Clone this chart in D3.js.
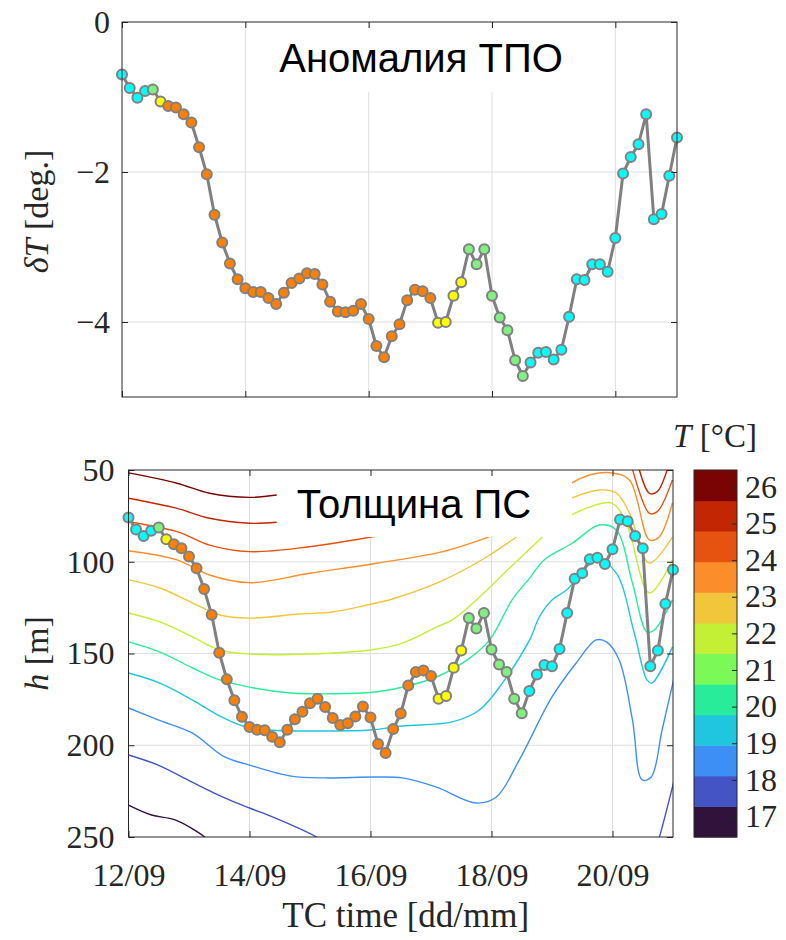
<!DOCTYPE html>
<html><head><meta charset="utf-8">
<script src="https://cdn.jsdelivr.net/npm/d3@7"></script>
<style>body{margin:0;background:#fff}</style>
</head><body><svg id="c" width="786" height="940"></svg>
<script>
// ---------------- data ----------------
const startDay = 12, stepDays = 0.125;          // 3-hourly samples starting 12/09 00:00
const dT = [-0.70,-0.88,-1.01,-0.92,-0.90,-1.06,-1.12,-1.14,-1.23,-1.34,
  -1.67,-2.03,-2.57,-2.94,-3.22,-3.43,-3.55,-3.60,-3.60,-3.68,
  -3.76,-3.61,-3.48,-3.42,-3.35,-3.36,-3.50,-3.73,-3.86,-3.87,
  -3.85,-3.76,-3.96,-4.32,-4.47,-4.19,-4.03,-3.71,-3.57,-3.59,
  -3.68,-4.01,-4.00,-3.65,-3.47,-3.03,-3.23,-3.03,-3.65,-3.94,
  -4.11,-4.51,-4.72,-4.54,-4.41,-4.40,-4.50,-4.37,-3.93,-3.43,
  -3.44,-3.23,-3.23,-3.33,-2.88,-2.02,-1.80,-1.63,-1.23,-2.63,
  -2.56,-2.05,-1.54];
const mldDepth = [75.9,82.4,86.0,83.1,81.3,87.8,90.5,92.7,97.2,103.5,
  114.9,128.9,149.6,164.1,175.5,184.5,190.0,191.6,191.8,195.4,
  198.4,191.6,185.8,181.8,177.1,174.6,179.1,185.2,189.0,188.0,
  184.3,178.9,184.9,199.3,204.2,191.2,182.7,167.4,160.1,159.2,
  162.3,174.6,173.2,157.8,148.4,130.6,136.4,127.9,147.8,156.0,
  160.1,174.6,182.5,170.4,161.4,156.3,156.9,147.5,127.9,109.3,
  106.2,98.6,97.8,101.2,93.2,77.0,77.9,86.0,92.7,156.9,
  148.4,122.9,104.4];
const pointClass = ("CCCCGY" + "OOOOOOOOOOOOOOOOOOOOOOOOOOOOOOOOOOO" + "YYYY" + "GGGGGGGG" + "CCCCCCCCCCCCCCCCCCCC").split("");
const times = dT.map((_, i) => startDay + i * stepDays);

const xTickValues = [12, 14, 16, 18, 20];
const xTickLabels = ["12/09", "14/09", "16/09", "18/09", "20/09"];
const dTTicks = [0, -2, -4];
const depthTicks = [50, 100, 150, 200, 250];
const cbTicks = [17, 18, 19, 20, 21, 22, 23, 24, 25, 26];

// isotherms: [day, depth m] (segments split where hidden by the title box)
const iso265 = [[[12.0,51.6],[12.80,57.2],[13.34,62.7],[14.0,64.9],[14.45,63.6]]];
const iso255 = [[[12.0,65.4],[12.80,70.9],[13.34,76.3],[14.0,79.0],[14.45,78.5]],
                [[20.42,47],[20.61,62.7],[20.74,61.8],[20.93,47]]];
const iso245 = [[[12.0,78.2],[12.80,83.6],[13.34,90.9],[14.0,94.5],[14.99,91.8],[16.10,86.0]],
                [[20.31,47],[20.61,73.6],[20.74,72.7],[20.99,55.4]]];
const iso235 = [[[12.0,94.0],[12.80,99.0],[13.34,107.2],[14.0,111.4],[14.99,106.3],[16.10,100.8],[17.19,94.5],[17.97,86.3]],
                [[19.32,57.1],[19.62,52.7],[19.99,51.6],[20.28,55.4],[20.61,88.1],[20.77,86.5],[20.99,68.0]]];
const iso225 = [[[12.0,109.9],[12.52,114.3],[13.06,122.5],[13.51,129.0],[14.0,130.7],[14.83,128.5],[15.37,127.4],[15.94,123.6],[16.36,120.3],[17.14,111.0],[17.92,97.4],[18.41,86.5]],
                [[19.32,65.3],[19.78,60.9],[20.06,62.5],[20.28,73.4],[20.61,100.7],[20.99,86.5]]];
const iso215 = [[[12.0,127.9],[12.52,132.8],[13.06,141.0],[13.51,148.1],[14.0,150.3],[14.99,150.3],[15.99,148.1],[16.53,144.3],[17.09,135.6],[17.35,131.7],[17.75,120.8],[18.30,103.4],[18.84,86.5]],
                [[19.32,74.5],[19.62,70.2],[19.99,68.0],[20.23,78.9],[20.61,117.0],[20.99,99.0]]];
const iso205 = [[[12.0,143.7],[12.52,149.2],[13.06,157.9],[13.51,164.4],[14.0,168.3],[14.69,171.5],[16.07,171.0],[16.53,168.3],[17.09,162.8],[17.64,152.5],[17.97,142.6],[18.34,120.8],[18.63,108.9],[18.87,99.0],[19.34,89.8],[19.78,80.0],[20.06,82.7],[20.33,111.6],[20.57,138.3],[20.69,137.2],[20.99,120.8]]];
const iso195 = [[[12.0,160.6],[12.52,166.1],[13.06,175.4],[13.51,184.1],[13.89,189.5],[14.33,191.7],[15.24,192.2],[15.99,191.7],[16.53,189.5],[17.35,187.3],[17.80,180.8],[18.18,166.1],[18.63,142.6],[18.79,130.1],[19.00,120.8],[19.24,115.4],[19.75,99.0],[20.06,106.1],[20.36,138.8],[20.57,164.4],[20.65,166.1],[20.99,146.5]]];
const iso185 = [[[12.0,179.7],[12.49,186.2],[13.05,193.3],[13.59,206.4],[14.0,210.8],[14.69,216.8],[15.24,217.8],[16.07,217.3],[16.53,217.8],[17.09,222.8],[17.75,231.5],[18.08,228.2],[18.46,208.0],[19.00,173.7],[19.40,155.2],[19.73,142.6],[19.90,143.7],[20.11,153.5],[20.33,186.2],[20.49,218.9],[20.64,217.3],[20.82,191.7],[21.02,162.8]]];
const iso175 = [[[12.0,205.3],[12.49,210.8],[13.05,220.1],[13.59,228.7],[14.0,234.2],[14.42,239.6],[15.11,250.0],[15.3,254]],
                [[20.74,253],[20.77,250.5],[21.02,218.9]]];
const iso165 = [[[12.0,232.6],[12.38,238.0],[12.77,240.7],[13.26,250.0],[13.35,253]]];
const isoLevels = [26.5, 25.5, 24.5, 23.5, 22.5, 21.5, 20.5, 19.5, 18.5, 17.5, 16.5];
const isoLines = [iso265, iso255, iso245, iso235, iso225, iso215, iso205, iso195, iso185, iso175, iso165];

// ---------------- styles ----------------
const turbo12 = ["#30123b","#4454c4","#3e8ff5","#1fc6de","#29ec9a","#7bfa57",
                 "#c3ef34","#f1c63a","#fb8e2a","#e6520f","#c22603","#7a0403"];
const classColor = {C:"#00ffff", G:"#80f080", Y:"#ffff00", O:"#ff8000"};
const AX = "#262626", GRID = "#dedede", LINE = "#808080";
const serif = "'Liberation Serif', 'Times New Roman', serif";
const sans = "'Liberation Sans', Arial, sans-serif";
const minus = d => d < 0 ? "\u2212" + Math.abs(d) : String(d);
const TICKFS = 32;

const svg = d3.select("#c");
svg.append("rect").attr("width", 786).attr("height", 940).attr("fill", "#fff");

// ---------------- top panel ----------------
const T = {l:122, r:677, t:22, b:397};
const xT = d3.scaleLinear().domain([12, 21]).range([T.l, T.r]);
const yT = d3.scaleLinear().domain([-5, 0]).range([T.b, T.t]);
const gT = svg.append("g");

gT.selectAll(".gx").data(xTickValues.slice(1)).join("line")
  .attr("x1", d => xT(d)).attr("x2", d => xT(d)).attr("y1", T.t).attr("y2", T.b)
  .attr("stroke", GRID).attr("stroke-width", 1);
gT.selectAll(".gy").data(dTTicks.filter(d => d > -5 && d < 0)).join("line")
  .attr("y1", d => yT(d)).attr("y2", d => yT(d)).attr("x1", T.l).attr("x2", T.r)
  .attr("stroke", GRID).attr("stroke-width", 1);

// title with white background
const titleT = gT.append("text").attr("x", 421).attr("y", 72).attr("text-anchor", "middle")
  .attr("font-family", sans).attr("font-size", 40).attr("fill", "#000").text("Аномалия ТПО");
const bbT = titleT.node().getBBox();
gT.insert("rect", () => titleT.node()).attr("x", bbT.x - 20).attr("y", T.t + 6)
  .attr("width", bbT.width + 40).attr("height", 64).attr("fill", "#fff");

gT.append("path").datum(times.map((t, i) => [t, dT[i]]))
  .attr("d", d3.line().x(d => xT(d[0])).y(d => yT(d[1])))
  .attr("fill", "none").attr("stroke", LINE).attr("stroke-width", 3).attr("stroke-linejoin", "round");
gT.selectAll("circle").data(times.map((t, i) => ({t, v: dT[i], c: pointClass[i]}))).join("circle")
  .attr("cx", d => xT(d.t)).attr("cy", d => yT(d.v)).attr("r", 5)
  .attr("fill", d => classColor[d.c]).attr("stroke", LINE).attr("stroke-width", 2);

function boxAxes(g, x, y, P, xt, yt, yfmt, ypad, xlabels) {
  g.append("rect").attr("x", P.l).attr("y", P.t).attr("width", P.r - P.l).attr("height", P.b - P.t)
    .attr("fill", "none").attr("stroke", AX).attr("stroke-width", 1);
  const ax = [
    g.append("g").attr("transform", `translate(${P.l},0)`).call(d3.axisLeft(y).tickValues(yt).tickSize(-6).tickPadding(ypad).tickFormat(yfmt)),
    g.append("g").attr("transform", `translate(${P.r},0)`).call(d3.axisRight(y).tickValues(yt).tickSize(-6).tickFormat("")),
    g.append("g").attr("transform", `translate(0,${P.b})`).call(d3.axisBottom(x).tickValues(xt).tickSize(-6).tickPadding(26).tickFormat((d, i) => xlabels ? xlabels[i] : "")),
    g.append("g").attr("transform", `translate(0,${P.t})`).call(d3.axisTop(x).tickValues(xt).tickSize(-6).tickFormat(""))
  ];
  ax.forEach(a => {
    a.select(".domain").remove();
    a.selectAll("line").attr("stroke", AX);
    a.selectAll("text").attr("font-family", serif).attr("font-size", TICKFS).attr("fill", AX);
  });
}
boxAxes(gT, xT, yT, T, xTickValues, dTTicks, minus, 12, null);

const ylabT = svg.append("text").attr("transform", `translate(48,${(T.t + T.b) / 2 + 2}) rotate(-90)`)
  .attr("text-anchor", "middle").attr("font-family", serif).attr("font-size", 34).attr("fill", AX);
ylabT.append("tspan").attr("font-style", "italic").text("δT");
ylabT.append("tspan").text(" [deg.]");

// ---------------- bottom panel ----------------
const B = {l:128.5, r:673, t:470, b:837};
const xB = d3.scaleLinear().domain([12, 21]).range([B.l, B.r]);
const yB = d3.scaleLinear().domain([50, 250]).range([B.t, B.b]);
const colorQ = d3.scaleQuantize().domain([16.44, 26.46]).range(turbo12);
const gB = svg.append("g");

svg.append("defs").append("clipPath").attr("id", "clipB").append("rect")
  .attr("x", B.l).attr("y", B.t).attr("width", B.r - B.l).attr("height", B.b - B.t);

gB.selectAll(".gx").data(xTickValues.slice(1)).join("line")
  .attr("x1", d => xB(d)).attr("x2", d => xB(d)).attr("y1", B.t).attr("y2", B.b)
  .attr("stroke", GRID).attr("stroke-width", 1);
gB.selectAll(".gy").data(depthTicks.slice(1, -1)).join("line")
  .attr("y1", d => yB(d)).attr("y2", d => yB(d)).attr("x1", B.l).attr("x2", B.r)
  .attr("stroke", GRID).attr("stroke-width", 1);

const isoG = gB.append("g").attr("clip-path", "url(#clipB)");
const isoLineGen = d3.line().x(d => xB(d[0])).y(d => yB(d[1])).curve(d3.curveCatmullRom.alpha(0.5));
isoLines.forEach((segs, k) => {
  segs.forEach(seg => {
    isoG.append("path").datum(seg).attr("d", isoLineGen)
      .attr("fill", "none").attr("stroke", colorQ(isoLevels[k])).attr("stroke-width", 1.4);
  });
});

const titleB = gB.append("text").attr("x", 414).attr("y", 518).attr("text-anchor", "middle")
  .attr("font-family", sans).attr("font-size", 40).attr("fill", "#000").text("Толщина ПС");
const bbB = titleB.node().getBBox();
gB.insert("rect", () => titleB.node()).attr("x", bbB.x - 18).attr("y", B.t + 2)
  .attr("width", 572 - (bbB.x - 18)).attr("height", 537 - B.t - 2).attr("fill", "#fff");

gB.append("path").datum(times.map((t, i) => [t, mldDepth[i]]))
  .attr("d", d3.line().x(d => xB(d[0])).y(d => yB(d[1])))
  .attr("fill", "none").attr("stroke", LINE).attr("stroke-width", 3).attr("stroke-linejoin", "round");
gB.selectAll("circle").data(times.map((t, i) => ({t, v: mldDepth[i], c: pointClass[i]}))).join("circle")
  .attr("cx", d => xB(d.t)).attr("cy", d => yB(d.v)).attr("r", 5)
  .attr("fill", d => classColor[d.c]).attr("stroke", LINE).attr("stroke-width", 2);

boxAxes(gB, xB, yB, B, xTickValues, depthTicks, d => d, 14, xTickLabels);

const ylabB = svg.append("text").attr("transform", `translate(48,${(B.t + B.b) / 2}) rotate(-90)`)
  .attr("text-anchor", "middle").attr("font-family", serif).attr("font-size", 34).attr("fill", AX);
ylabB.append("tspan").attr("font-style", "italic").text("h");
ylabB.append("tspan").text(" [m]");

svg.append("text").attr("x", (B.l + B.r) / 2 + 5).attr("y", 927).attr("text-anchor", "middle")
  .attr("font-family", serif).attr("font-size", 35).attr("fill", AX).text("TC time [dd/mm]");

// ---------------- colorbar ----------------
const CB = {l:694, r:737, t:470, b:837};
const yC = d3.scaleLinear().domain(colorQ.domain()).range([CB.b, CB.t]);
const bandEdges = [colorQ.domain()[0], ...colorQ.thresholds(), colorQ.domain()[1]];
const gC = svg.append("g");
gC.selectAll("rect.band").data(turbo12).join("rect").attr("class", "band")
  .attr("x", CB.l).attr("width", CB.r - CB.l)
  .attr("y", (c, i) => yC(bandEdges[i + 1])).attr("height", (c, i) => yC(bandEdges[i]) - yC(bandEdges[i + 1]) + 0.5)
  .attr("fill", c => c);
gC.append("rect").attr("x", CB.l).attr("y", CB.t).attr("width", CB.r - CB.l).attr("height", CB.b - CB.t)
  .attr("fill", "none").attr("stroke", AX).attr("stroke-width", 1);
const cbAx = gC.append("g").attr("transform", `translate(${CB.r},0)`)
  .call(d3.axisRight(yC).tickValues(cbTicks).tickSize(-5).tickPadding(8));
cbAx.select(".domain").remove();
cbAx.selectAll("line").attr("stroke", AX);
cbAx.selectAll("text").attr("font-family", serif).attr("font-size", TICKFS).attr("fill", AX);

const cbT = svg.append("text").attr("x", 715).attr("y", 447).attr("text-anchor", "middle")
  .attr("font-family", serif).attr("font-size", 33).attr("fill", AX);
cbT.append("tspan").attr("font-style", "italic").text("T");
cbT.append("tspan").text(" [\u00B0C]");
</script></body></html>
